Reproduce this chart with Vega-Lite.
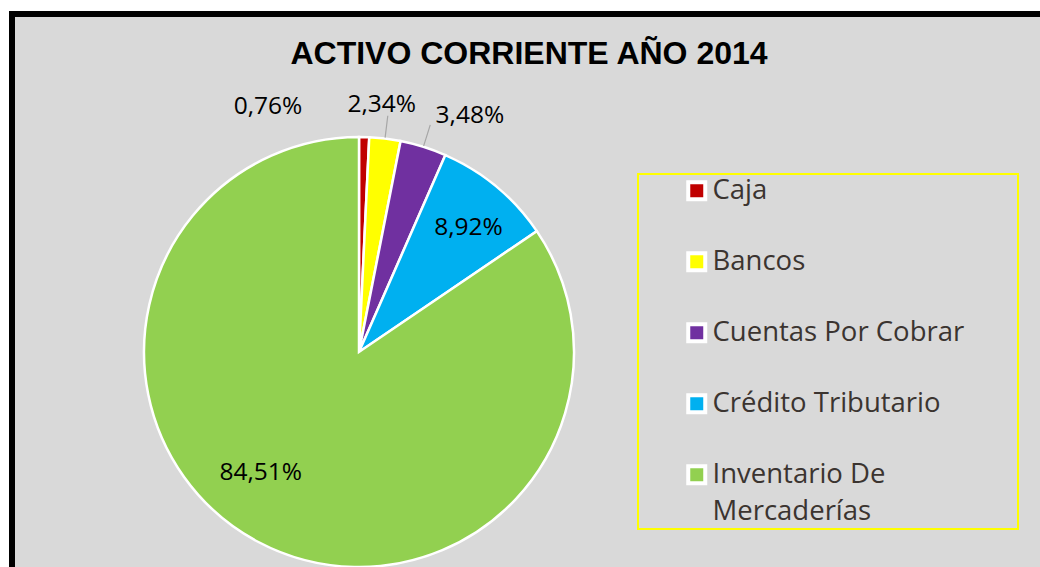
{
  "$schema": "https://vega.github.io/schema/vega-lite/v6.json",
  "width": 1028,
  "height": 553,
  "autosize": "none",
  "padding": {"left": 12, "top": 14, "right": 0, "bottom": 0},
  "background": "white",
  "title": {
    "text": "ACTIVO CORRIENTE AÑO 2014",
    "font": "Liberation Sans",
    "fontSize": 32,
    "fontWeight": "bold",
    "color": "black",
    "anchor": "middle",
    "dx": 3,
    "offset": -57
  },
  "config": {
    "locale": {"number": {"decimal": ",", "thousands": ".", "grouping": [3], "currency": ["", " €"]}},
    "view": {
      "fill": "#d9d9d9",
      "stroke": "black",
      "strokeWidth": 6,
      "strokeDash": [1028, 1581, 553, 10],
      "strokeCap": "square"
    },
    "legend": {"strokeWidth": 2}
  },
  "data": {
    "values": [
      {"cat": "Caja", "pct": 0.0076},
      {"cat": "Bancos", "pct": 0.0234},
      {"cat": "Cuentas Por Cobrar", "pct": 0.0348},
      {"cat": "Crédito Tributario", "pct": 0.0892},
      {"cat": "Inventario De Mercaderías", "pct": 0.8451}
    ]
  },
  "transform": [{"window": [{"op": "row_number", "as": "idx"}]}],
  "encoding": {
    "theta": {"field": "pct", "type": "quantitative", "stack": true},
    "order": {"field": "idx", "type": "quantitative"},
    "x": {"datum": 347, "type": "quantitative", "scale": {"domain": [0, 1028], "nice": false, "zero": false}, "axis": null},
    "y": {"datum": 338, "type": "quantitative", "scale": {"domain": [0, 553], "reverse": true, "nice": false, "zero": false}, "axis": null}
  },
  "layer": [
    {
      "mark": {"type": "arc", "outerRadius": 215, "stroke": "white", "strokeWidth": 2.5},
      "encoding": {
        "color": {
          "field": "cat",
          "type": "nominal",
          "sort": ["Caja", "Bancos", "Cuentas Por Cobrar", "Crédito Tributario", "Inventario De Mercaderías"],
          "scale": {
            "domain": ["Caja", "Bancos", "Cuentas Por Cobrar", "Crédito Tributario", "Inventario De Mercaderías"],
            "range": ["#c00000", "#ffff00", "#7030a0", "#00b0f0", "#92d050"]
          },
          "legend": {
            "orient": "none",
            "legendX": 626,
            "legendY": 160,
            "direction": "vertical",
            "title": "\u00a0",
            "titleOrient": "right",
            "titlePadding": 51,
            "titleFontSize": 6,
            "padding": 3,
            "strokeColor": "#ffff00",
            "symbolType": "square",
            "symbolSize": 289,
            "symbolStrokeColor": "white",
            "symbolStrokeWidth": 4,
            "symbolOffset": 42,
            "symbolOpacity": 1,
            "labelFont": "Open Sans",
            "labelFontSize": 27.5,
            "labelColor": "#3b3430",
            "labelOffset": 2,
            "labelLimit": 500,
            "rowPadding": 37,
            "labelExpr": "datum.label == 'Inventario De Mercaderías' ? ['Inventario De', 'Mercaderías'] : datum.label == 'Bancos' ? '\u00a0Bancos' : datum.label",
            "encode": {"labels": {"update": {"lineHeight": {"value": 37.5}}}}
          }
        }
      }
    },
    {
      "mark": {"type": "arc", "outerRadius": 238, "innerRadius": 216, "padAngle": 1, "fillOpacity": 0, "stroke": "#a6a6a6", "strokeWidth": 1.2},
      "encoding": {
        "detail": {"field": "cat"},
        "strokeOpacity": {"condition": {"test": "datum.cat === 'Bancos' || datum.cat === 'Cuentas Por Cobrar'", "value": 1}, "value": 0}
      }
    },
    {
      "mark": {"type": "text", "radius": 250, "dx": -97, "dy": 4.5, "font": "Open Sans", "fontSize": 24.5, "color": "black"},
      "encoding": {
        "detail": {"field": "cat"},
        "text": {"condition": {"test": "datum.cat === 'Caja'", "field": "pct", "type": "quantitative", "format": ".2%"}, "value": ""}
      }
    },
    {
      "mark": {"type": "text", "radius": 250, "dx": -7.5, "dy": 1.5, "font": "Open Sans", "fontSize": 24.5, "color": "black"},
      "encoding": {
        "detail": {"field": "cat"},
        "text": {"condition": {"test": "datum.cat === 'Bancos'", "field": "pct", "type": "quantitative", "format": ".2%"}, "value": ""}
      }
    },
    {
      "mark": {"type": "text", "radius": 250, "dx": 36, "dy": 3, "font": "Open Sans", "fontSize": 24.5, "color": "black"},
      "encoding": {
        "detail": {"field": "cat"},
        "text": {"condition": {"test": "datum.cat === 'Cuentas Por Cobrar'", "field": "pct", "type": "quantitative", "format": ".2%"}, "value": ""}
      }
    },
    {
      "mark": {"type": "text", "radius": 165, "dx": 4, "dy": 2.5, "font": "Open Sans", "fontSize": 24.5, "color": "black"},
      "encoding": {
        "detail": {"field": "cat"},
        "text": {"condition": {"test": "datum.cat === 'Crédito Tributario'", "field": "pct", "type": "quantitative", "format": ".2%"}, "value": ""}
      }
    },
    {
      "mark": {"type": "text", "radius": 165, "dx": -21, "dy": -24.5, "font": "Open Sans", "fontSize": 24.5, "color": "black"},
      "encoding": {
        "detail": {"field": "cat"},
        "text": {"condition": {"test": "datum.cat === 'Inventario De Mercaderías'", "field": "pct", "type": "quantitative", "format": ".2%"}, "value": ""}
      }
    }
  ]
}
